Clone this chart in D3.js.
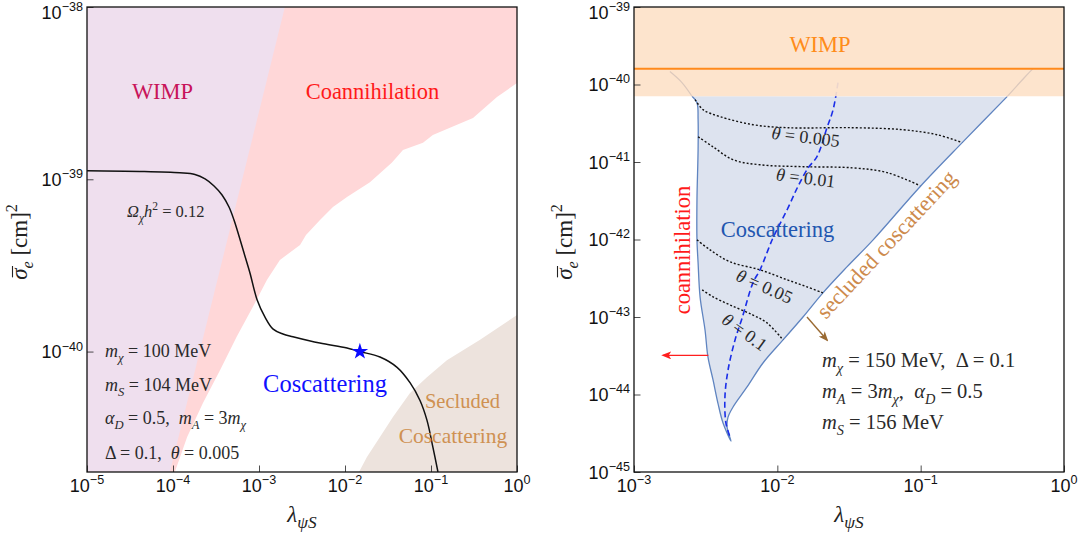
<!DOCTYPE html>
<html>
<head>
<meta charset="utf-8">
<script src="https://cdn.jsdelivr.net/npm/d3@7"></script>
<style>
  body { margin: 0; background: #fff; }
  text { white-space: pre; }
</style>
</head>
<body>
<svg id="chart" width="1085" height="533"></svg>
<script>
// ---- left panel data: [lambda, sigma] ----
const wimpEdgeL = [[2.0e-3, 1e-38], [9.2e-5, 2e-41]];
const coannEdgeL = [
    [1, 3.62e-39], [0.585, 3.0e-39], [0.308, 2.27e-39], [0.166, 1.99e-39], [0.105, 1.81e-39],
    [0.0807, 1.63e-39], [0.0472, 1.48e-39], [0.0352, 1.25e-39], [0.0195, 9.6e-40], [0.01055, 7.9e-40],
    [0.00724, 6.9e-40], [0.00512, 5.8e-40], [0.00352, 4.75e-40], [0.0030, 4.16e-40], [0.00175, 3.4e-40],
    [0.00124, 2.61e-40], [8.5e-4, 1.82e-40], [5.5e-4, 1.22e-40], [3.52e-4, 7.8e-41], [2.23e-4, 5.03e-41],
    [1.46e-4, 3.19e-41], [1.05e-4, 2.0e-41]
];
const secludedEdgeL = [
    [1, 1.63e-40], [0.372, 1.17e-40], [0.153, 8.9e-41], [0.0897, 7.1e-41], [0.057, 5.75e-41],
    [0.0361, 4.17e-41], [0.0255, 3.19e-41], [0.018, 2.44e-41], [0.01455, 2.0e-41]
];
const relicL = [
    [1e-5, 1.12e-39], [4.13e-5, 1.11e-39], [1.2e-4, 1.09e-39], [1.8e-4, 1.066e-39], [2.36e-4, 1.005e-39],
    [3.0e-4, 9.15e-40], [3.72e-4, 8.11e-40], [4.48e-4, 6.9e-40], [5.12e-4, 5.8e-40], [5.85e-4, 4.69e-40],
    [6.7e-4, 3.73e-40], [7.85e-4, 2.86e-40], [9.5e-4, 2.0e-40], [1.17e-3, 1.59e-40], [1.46e-3, 1.35e-40],
    [1.9e-3, 1.265e-40], [2.48e-3, 1.22e-40], [5.1e-3, 1.12e-40], [0.01055, 1.05e-40], [0.0149, 1.0e-40],
    [0.0255, 9.3e-41], [0.0403, 8.1e-41], [0.057, 6.6e-41], [0.0745, 5.2e-41], [0.0897, 4.0e-41],
    [0.105, 2.8e-41], [0.1205, 2.0e-41]
];
const benchmarkL = [0.0149, 1.0e-40];

// ---- right panel data ----
const wimpBandR = [7.05e-41, 1e-39];
const wimpLineR = 1.6e-40;
const coscatEdgeR = [   // left branch down to the tip, then right branch up
    [2.54e-3, 7.05e-41], [2.75e-3, 5.83e-41], [2.80e-3, 3.52e-41], [2.80e-3, 1.44e-41], [2.75e-3, 3.26e-42],
    [2.75e-3, 9.9e-43], [2.80e-3, 5.0e-43], [2.89e-3, 1.82e-43], [3.13e-3, 6.8e-44], [3.28e-3, 3.05e-44],
    [3.56e-3, 1.54e-44], [3.85e-3, 7.76e-45], [4.18e-3, 4.28e-45], [4.75e-3, 2.5e-45],
    [4.46e-3, 3.8e-45], [4.53e-3, 5.1e-45], [4.91e-3, 6.9e-45], [6.15e-3, 1.25e-44], [7.94e-3, 2.55e-44],
    [0.01096, 5.06e-44], [0.0151, 1.0e-43], [0.0208, 2.05e-43], [0.0306, 4.43e-43], [0.0466, 9.9e-43],
    [0.099, 4.8e-42], [0.198, 1.83e-41], [0.401, 6.97e-41]
];
const fadedLeftR = [[2.54e-3, 7.05e-41], [2.16e-3, 1.06e-40], [1.78e-3, 1.47e-40]];
const fadedRightR = [[0.401, 6.97e-41], [0.536, 1.26e-40], [0.608, 1.6e-40]];
const relicR = [
    [0.0265, 1.06e-40], [0.0245, 4.74e-41], [0.0222, 2.77e-41], [0.0189, 1.17e-41], [0.0164, 8.4e-42],
    [0.0139, 4.8e-42], [0.0117, 2.42e-42], [9.33e-3, 1.05e-42], [7.57e-3, 4.06e-43], [6.76e-3, 2.76e-43],
    [5.68e-3, 9.7e-44], [5.07e-3, 5.06e-44], [4.53e-3, 2.07e-44], [4.31e-3, 9.3e-45], [4.38e-3, 4.28e-45],
    [4.68e-3, 2.82e-45]
];
const theta0005 = [[2.67e-3, 6.38e-41], [3.03e-3, 4.74e-41], [3.98e-3, 3.85e-41], [6.76e-3, 3.03e-41],
    [0.0117, 2.77e-41], [0.0337, 2.77e-41], [0.0753, 2.61e-41], [0.130, 2.25e-41], [0.195, 1.78e-41]];
const theta001 = [[2.80e-3, 2.12e-41], [3.56e-3, 1.57e-41], [4.91e-3, 1.07e-41], [7.57e-3, 9.2e-42],
    [0.0151, 8.7e-42], [0.0337, 8.4e-42], [0.0583, 7.3e-42], [0.099, 4.95e-42]];
const theta005 = [[2.75e-3, 9.9e-43], [3.39e-3, 7.36e-43], [4.68e-3, 5.15e-43], [7.57e-3, 4.06e-43],
    [0.0117, 3.02e-43], [0.0161, 2.45e-43], [0.0208, 2.05e-43]];
const theta01 = [[2.99e-3, 2.24e-43], [3.56e-3, 1.82e-43], [4.68e-3, 1.43e-43], [6.76e-3, 1.06e-43],
    [8.47e-3, 8.4e-44], [0.01096, 5.06e-44]];
const coannArrowR = [[3.3e-3, 3.2e-44], [1.6e-3, 3.2e-44]];
const secludedArrowR = [[0.0161, 1.0e-43], [0.0222, 5.06e-44]];

// ---- tick labels (exponents of ten) ----
const xTicksL = [-5, -4, -3, -2, -1, 0];
const yTicksL = [-40, -39, -38];
const xTicksR = [-3, -2, -1, 0];
const yTicksR = [-45, -44, -43, -42, -41, -40, -39];

const serif = "'Liberation Serif', 'Times New Roman', serif";
const sans = "'Liberation Sans', Arial, sans-serif";

const svg = d3.select("#chart");

const xL = d3.scaleLog().domain([1e-5, 1]).range([87, 517]);
const yL = d3.scaleLog().domain([2e-41, 1e-38]).range([472, 7]);
const xR = d3.scaleLog().domain([1e-3, 1]).range([634, 1064]);
const yR = d3.scaleLog().domain([1e-45, 1e-39]).range([472, 7]);

// text with italic / sub / sup pieces: [string, flags]  (i = italic, s = sub, p = sup)
function mathText(g, x, y, parts, size, opts = {}) {
    const t = g.append("text")
        .attr("x", x).attr("y", y)
        .attr("font-family", opts.font || serif)
        .attr("font-size", size)
        .attr("fill", opts.fill || "#2a2a2a")
        .attr("text-anchor", opts.anchor || "start");
    if (opts.rotate != null) t.attr("transform", `rotate(${opts.rotate},${x},${y})`);
    let shift = 0;
    parts.forEach(([str, flags = ""]) => {
        const target = flags.includes("s") ? size * 0.28 : flags.includes("p") ? -size * 0.42 : 0;
        const s = t.append("tspan").attr("dy", target - shift).text(str);
        shift = target;
        if (flags.includes("i")) s.attr("font-style", "italic");
        if (flags.includes("s") || flags.includes("p")) s.attr("font-size", size * (opts.scriptScale || 0.7));
    });
    return t;
}

// sigma-bar label: bar drawn over the first glyph
function sigmaLabel(x, y) {
    const t = mathText(svg, x, y, [["\u03c3", "i"], ["e", "is"], [" [cm]"], ["2", "p"]], 23,
        { fill: "#222", anchor: "middle", rotate: -90 });
    const n = t.node();
    const s = n.getStartPositionOfChar(0).x, e = n.getEndPositionOfChar(0).x;
    svg.append("line").attr("transform", t.attr("transform"))
        .attr("x1", s + 2.5).attr("x2", e + 2.5).attr("y1", y - 14.5).attr("y2", y - 14.5)
        .attr("stroke", "#222").attr("stroke-width", 1.1);
}

function minorValues(scale) {
    const [a, b] = scale.domain();
    const out = [];
    for (let e = Math.floor(Math.log10(a)); e < Math.ceil(Math.log10(b)); e++) {
        for (let k = 2; k <= 9; k++) {
            const v = k * Math.pow(10, e);
            if (v > a * 1.001 && v < b * 0.999) out.push(v);
        }
    }
    return out;
}

function drawAxes(x, y, xTicks, yTicks) {
    const [x0, x1] = x.range(), [y0, y1] = y.range();
    const g = svg.append("g");

    const bx = g.append("g").attr("transform", `translate(0,${y0})`);
    bx.call(d3.axisBottom(x).tickValues(minorValues(x)).tickSize(-3.5).tickFormat(""));
    bx.call(d3.axisBottom(x).tickValues(xTicks.map(e => Math.pow(10, e))).tickSize(-6.5).tickFormat(""));
    const ly = g.append("g").attr("transform", `translate(${x0},0)`);
    ly.call(d3.axisLeft(y).tickValues(minorValues(y)).tickSize(-3.5).tickFormat(""));
    ly.call(d3.axisLeft(y).tickValues(yTicks.map(e => Math.pow(10, e))).tickSize(-6.5).tickFormat(""));
    g.selectAll(".domain").remove();
    g.selectAll(".tick line").attr("stroke", "#222").attr("stroke-width", 0.8);

    g.append("rect").attr("x", x0).attr("y", y1).attr("width", x1 - x0).attr("height", y0 - y1)
        .attr("fill", "none").attr("stroke", "#111").attr("stroke-width", 1.3);

    xTicks.forEach(e => {
        mathText(g, x(Math.pow(10, e)), y0 + 19.5, [["10"], [e < 0 ? "\u2212" + (-e) : String(e), "p"]], 18,
            { font: sans, fill: "#111", anchor: "middle", scriptScale: 0.7 });
    });
    yTicks.forEach(e => {
        const ty = y(Math.pow(10, e));
        const nudge = ty - y1 < 5 ? 5 : 0;   // keep the top label inside the picture
        mathText(g, x0 - 4, ty + 6.5 + nudge, [["10"], ["\u2212" + (-e), "p"]], 18,
            { font: sans, fill: "#111", anchor: "end", scriptScale: 0.7 });
    });
}

const defs = svg.append("defs");
[["clipL", xL, yL], ["clipR", xR, yR]].forEach(([id, x, y]) => {
    defs.append("clipPath").attr("id", id).append("rect")
        .attr("x", x.range()[0]).attr("y", y.range()[1])
        .attr("width", x.range()[1] - x.range()[0]).attr("height", y.range()[0] - y.range()[1]);
});
function marker(id, color) {
    defs.append("marker").attr("id", id).attr("viewBox", "0 0 10 8")
        .attr("refX", 8).attr("refY", 4).attr("markerWidth", 10).attr("markerHeight", 8)
        .attr("markerUnits", "userSpaceOnUse").attr("orient", "auto")
        .append("path").attr("d", "M0,0 L10,4 L0,8 L2.5,4 Z").attr("fill", color);
}
marker("arrRed", "#ff1e1e");
marker("arrBrown", "#9a6a32");

// =================== left panel ===================
{
    const plot = svg.append("g").attr("clip-path", "url(#clipL)");
    const line = d3.line().x(d => xL(d[0])).y(d => yL(d[1]));
    const [a, b] = xL.domain(), [lo, hi] = yL.domain();

    plot.append("path").attr("d", line([[a, hi], [b, hi], ...coannEdgeL, [a, lo]]) + "Z").attr("fill", "#ffd7d8");
    plot.append("path").attr("d", line([[a, hi], ...wimpEdgeL, [a, lo]]) + "Z").attr("fill", "#efdfee");
    plot.append("path").attr("d", line([...secludedEdgeL, [b, lo]]) + "Z").attr("fill", "#ede3dd");

    plot.append("path")
        .attr("d", line.curve(d3.curveCatmullRom.alpha(0.5))(relicL))
        .attr("fill", "none").attr("stroke", "#111").attr("stroke-width", 1.5);

    plot.append("path")
        .attr("d", d3.symbol(d3.symbolStar, 85)())
        .attr("transform", `translate(${xL(benchmarkL[0])},${yL(benchmarkL[1])})`)
        .attr("fill", "#0a0aff");

    mathText(svg, 162.5, 99, [["WIMP"]], 22.5, { fill: "#c8145a", anchor: "middle" });
    mathText(svg, 372.5, 99, [["Coannihilation"]], 22.5, { fill: "#ff1a1a", anchor: "middle" });
    mathText(svg, 325, 392, [["Coscattering"]], 24.5, { fill: "#1010ff", anchor: "middle" });
    mathText(svg, 462.5, 408, [["Secluded"]], 20.5, { fill: "#cf9152", anchor: "middle" });
    mathText(svg, 453, 443, [["Coscattering"]], 21.5, { fill: "#cf9152", anchor: "middle" });

    mathText(svg, 127, 217, [["\u03a9", "i"], ["\u03c7", "is"], ["h", "i"], ["2", "p"], [" = 0.12"]], 16.5);
    mathText(svg, 105, 357, [["m", "i"], ["\u03c7", "is"], [" = 100 MeV"]], 18);
    mathText(svg, 105, 391, [["m", "i"], ["S", "is"], [" = 104 MeV"]], 18);
    mathText(svg, 105, 424, [["\u03b1", "i"], ["D", "is"], [" = 0.5,  "], ["m", "i"], ["A", "is"], [" = 3"], ["m", "i"], ["\u03c7", "is"]], 18);
    mathText(svg, 105, 459, [["\u0394 = 0.1,  "], ["\u03b8", "i"], [" = 0.005"]], 18);

    drawAxes(xL, yL, xTicksL, yTicksL);

    mathText(svg, 302, 522, [["\u03bb", "i"], ["\u03c8S", "is"]], 23, { fill: "#222", anchor: "middle", scriptScale: 0.75 });
    sigmaLabel(27, 242);
}

// =================== right panel ===================
{
    const plot = svg.append("g").attr("clip-path", "url(#clipR)");
    const line = d3.line().x(d => xR(d[0])).y(d => yR(d[1]));
    const smooth = d3.line().x(d => xR(d[0])).y(d => yR(d[1])).curve(d3.curveCatmullRom);
    const [a, b] = xR.domain();

    plot.append("path").attr("d", smooth(coscatEdgeR) + "Z").attr("fill", "#dde3ef");
    plot.append("path").attr("d", smooth(coscatEdgeR))
        .attr("fill", "none").attr("stroke", "#5f84c0").attr("stroke-width", 1.3);

    [theta0005, theta001, theta005, theta01].forEach(c => {
        plot.append("path").attr("d", smooth(c))
            .attr("fill", "none").attr("stroke", "#111").attr("stroke-width", 1.4)
            .attr("stroke-dasharray", "2,2");
    });

    plot.append("path").attr("d", smooth(relicR))
        .attr("fill", "none").attr("stroke", "#1a2ee8").attr("stroke-width", 1.6)
        .attr("stroke-dasharray", "6,3.5");

    plot.append("rect")
        .attr("x", xR(a)).attr("y", yR(wimpBandR[1]))
        .attr("width", xR(b) - xR(a)).attr("height", yR(wimpBandR[0]) - yR(wimpBandR[1]))
        .attr("fill", "#fde2c9").attr("opacity", 0.93);
    [fadedLeftR, fadedRightR].forEach(c => {
        plot.append("path").attr("d", smooth(c))
            .attr("fill", "none").attr("stroke", "#dcc8bc").attr("stroke-width", 1.2);
    });
    plot.append("line")
        .attr("x1", xR(a)).attr("x2", xR(b)).attr("y1", yR(wimpLineR)).attr("y2", yR(wimpLineR))
        .attr("stroke", "#ff8a1c").attr("stroke-width", 2);

    svg.append("path").attr("d", line(coannArrowR))
        .attr("stroke", "#ff1e1e").attr("stroke-width", 1.4).attr("marker-end", "url(#arrRed)");
    svg.append("path").attr("d", line(secludedArrowR))
        .attr("stroke", "#9a6a32").attr("stroke-width", 1.4).attr("marker-end", "url(#arrBrown)");

    mathText(svg, 820, 52, [["WIMP"]], 22.5, { fill: "#ff8c1a", anchor: "middle" });
    mathText(svg, 777.5, 237, [["Coscattering"]], 22.5, { fill: "#2256b0", anchor: "middle" });
    mathText(svg, 690, 250, [["coannihilation"]], 22.5, { fill: "#ff1a1a", anchor: "middle", rotate: -90 });
    mathText(svg, 826, 320, [["secluded coscattering"]], 22.5, { fill: "#cd8a4c", rotate: -47 });

    mathText(svg, 805, 143, [["\u03b8", "i"], [" = 0.005"]], 18, { anchor: "middle", rotate: 7 });
    mathText(svg, 805, 184, [["\u03b8", "i"], [" = 0.01"]], 18, { anchor: "middle", rotate: 7 });
    mathText(svg, 762, 292, [["\u03b8", "i"], [" = 0.05"]], 18, { anchor: "middle", rotate: 24 });
    mathText(svg, 741, 337, [["\u03b8", "i"], [" = 0.1"]], 18, { anchor: "middle", rotate: 36 });

    mathText(svg, 822, 367, [["m", "i"], ["\u03c7", "is"], [" = 150 MeV,  \u0394 = 0.1"]], 20.5);
    mathText(svg, 822, 398, [["m", "i"], ["A", "is"], [" = 3"], ["m", "i"], ["\u03c7", "is"], [",  "], ["\u03b1", "i"], ["D", "is"], [" = 0.5"]], 20.5);
    mathText(svg, 822, 429, [["m", "i"], ["S", "is"], [" = 156 MeV"]], 20.5);

    drawAxes(xR, yR, xTicksR, yTicksR);

    mathText(svg, 849, 522, [["\u03bb", "i"], ["\u03c8S", "is"]], 23, { fill: "#222", anchor: "middle", scriptScale: 0.75 });
    sigmaLabel(572, 242);
}
</script>
</body>
</html>
